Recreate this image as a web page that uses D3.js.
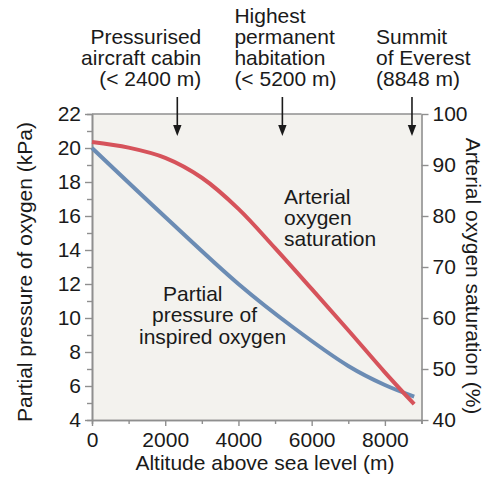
<!DOCTYPE html>
<html><head><meta charset="utf-8">
<script src="https://cdn.jsdelivr.net/npm/d3@7"></script>
<style>
html,body{margin:0;padding:0;background:#fff;}
svg text{font-family:"Liberation Sans",Arial,Helvetica,sans-serif;fill:#1a1a1a;}
</style></head>
<body><svg id="c" width="487" height="477"></svg>
<script>
// ---- data ----
const altitudeInspired = [0,2000,4000,5500,7000,8000,8800];
const inspiredPO2 = [20.0,15.94,12.0,9.44,7.18,6.06,5.38];
const altitudeSat = [0,1000,2000,3000,4000,5000,6000,7000,8000,8800];
const arterialSat = [94.5,93.4,91.4,87.5,81.4,73.7,65.7,57.6,49.35,43.1];
const xTicks = [0,2000,4000,6000,8000];
const xMinorTicks = [1000,3000,5000,7000,9000];
const leftTicks = [4,6,8,10,12,14,16,18,20,22];
const leftMinorTicks = [5,7,9,11,13,15,17,19,21];
const rightTicks = [40,50,60,70,80,90,100];
const markerAltitudes = [2330,5200,8740];
const markerLabels = [
  ["Pressurised","aircraft cabin","(< 2400 m)"],
  ["Highest","permanent","habitation","(< 5200 m)"],
  ["Summit","of Everest","(8848 m)"]
];

const svg = d3.select("#c");
const L=92, R=421.5, T=114, B=420;
const x = d3.scaleLinear().domain([0,9000]).range([L,R]);
const yL = d3.scaleLinear().domain([4,22]).range([B,T]);
const yR = d3.scaleLinear().domain([40,100]).range([B,T]);
const axisCol = "#8f8f8f";
const FS = "21px";

svg.append("rect").attr("x",L).attr("y",T).attr("width",R-L).attr("height",B-T).attr("fill","#f3f2ee");

function style(g, labels){
  g.select(".domain").attr("stroke",axisCol).attr("stroke-width",1.6);
  g.selectAll(".tick line").attr("stroke",axisCol).attr("stroke-width",1.4);
  g.selectAll(".tick text").style("font-size",FS).attr("fill","#1a1a1a");
  if(!labels) g.selectAll(".tick text").remove();
}
// top border
svg.append("line").attr("x1",L).attr("x2",R).attr("y1",T).attr("y2",T).attr("stroke",axisCol).attr("stroke-width",1.6);

// x axis
svg.append("g").attr("transform",`translate(0,${B})`)
  .call(d3.axisBottom(x).tickValues(xMinorTicks).tickSize(4).tickFormat(""))
  .call(g=>style(g,false));
svg.append("g").attr("transform",`translate(0,${B})`)
  .call(d3.axisBottom(x).tickValues(xTicks).tickSize(6).tickSizeOuter(0).tickPadding(6).tickFormat(d3.format("d")))
  .call(g=>style(g,true));
// left axis
svg.append("g").attr("transform",`translate(${L},0)`)
  .call(d3.axisLeft(yL).tickValues(leftMinorTicks).tickSize(5).tickFormat(""))
  .call(g=>style(g,false));
svg.append("g").attr("transform",`translate(${L},0)`)
  .call(d3.axisLeft(yL).tickValues(leftTicks).tickSize(7).tickSizeOuter(0).tickPadding(4).tickFormat(d3.format("d")))
  .call(g=>style(g,true));
// right axis
svg.append("g").attr("transform",`translate(${R},0)`)
  .call(d3.axisRight(yR).tickValues(rightTicks).tickSize(7).tickSizeOuter(0).tickPadding(4).tickFormat(d3.format("d")))
  .call(g=>style(g,true));

// curves
const lineI = d3.line().x(d=>x(d[0])).y(d=>yL(d[1])).curve(d3.curveCatmullRom.alpha(0.5));
const lineS = d3.line().x(d=>x(d[0])).y(d=>yR(d[1])).curve(d3.curveCatmullRom.alpha(0.5));
svg.append("path").datum(altitudeInspired.map((a,i)=>[a,inspiredPO2[i]]))
  .attr("d",lineI).attr("fill","none").attr("stroke","#6b8cb4").attr("stroke-width",4);
svg.append("path").datum(altitudeSat.map((a,i)=>[a,arterialSat[i]]))
  .attr("d",lineS).attr("fill","none").attr("stroke","#d6535b").attr("stroke-width",4);

// axis titles
svg.append("text").attr("x",265).attr("y",470).attr("text-anchor","middle").style("font-size",FS)
  .text("Altitude above sea level (m)");
svg.append("text").attr("transform","translate(32,272) rotate(-90)").attr("text-anchor","middle").style("font-size",FS)
  .text("Partial pressure of oxygen (kPa)");
svg.append("text").attr("transform","translate(466,276) rotate(90)").attr("text-anchor","middle").style("font-size",FS)
  .text("Arterial oxygen saturation (%)");

// curve labels
const lab1 = svg.append("text").style("font-size",FS);
[["Arterial",284,204],["oxygen",284,225],["saturation",284,246]].forEach(r=>
  lab1.append("tspan").attr("x",r[1]).attr("y",r[2]).text(r[0]));
const lab2 = svg.append("text").style("font-size",FS);
[["Partial",163,301],["pressure of",152,322],["inspired oxygen",139,344]].forEach(r=>
  lab2.append("tspan").attr("x",r[1]).attr("y",r[2]).text(r[0]));

// markers
const anchors = ["end","start","start"];
const offs = [ +24, -48, -36 ];
markerAltitudes.forEach((a,i)=>{
  const xp = x(a);
  svg.append("line").attr("x1",xp).attr("x2",xp).attr("y1",97).attr("y2",127).attr("stroke","#1a1a1a").attr("stroke-width",1.6);
  svg.append("path").attr("d",`M${xp-4.2},125 L${xp+4.2},125 L${xp},136 Z`).attr("fill","#1a1a1a");
  const lines = markerLabels[i];
  const t = svg.append("text").style("font-size",FS).attr("text-anchor",anchors[i]);
  lines.forEach((s,j)=>{
    t.append("tspan").attr("x",xp+offs[i]).attr("y",86-(lines.length-1-j)*21).text(s);
  });
});
</script></body></html>
